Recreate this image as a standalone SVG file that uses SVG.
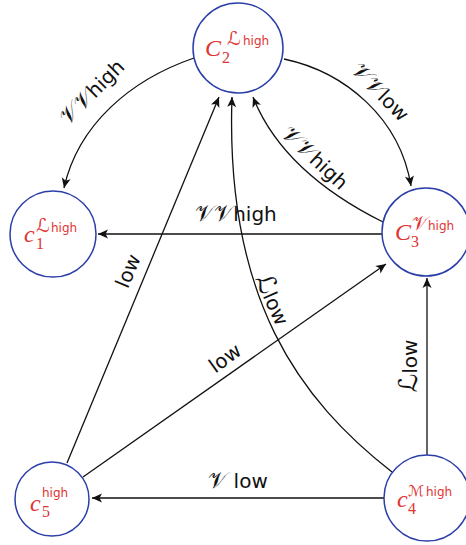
<svg xmlns="http://www.w3.org/2000/svg" width="466" height="545" viewBox="0 0 466 545">
<defs>
<style>
.node circle{fill:#fff;stroke:#2c3ea8;stroke-width:1.5}
.nm{font-family:"Liberation Serif",serif;font-style:italic;font-size:24px;fill:#e03333}
.ns{font-family:"Liberation Serif",serif;font-size:16px;fill:#e03333}
.np{font-family:"DejaVu Sans","DejaVu Serif",sans-serif;font-size:12px;fill:#e03333}
.npm{font-family:"DejaVu Serif","DejaVu Sans",serif;font-size:19px;fill:#e03333}
#edges path,#edges line{fill:none;stroke:#111;stroke-width:1.3;marker-end:url(#arr)}
.el{font-family:"DejaVu Sans","DejaVu Serif",sans-serif;font-size:20px;fill:#111;text-anchor:middle}
.sc{font-family:"DejaVu Serif","DejaVu Sans",serif;font-size:23px}
.sl{font-family:"DejaVu Serif","DejaVu Sans",serif;font-size:26px}
</style>
<marker id="arr" markerUnits="userSpaceOnUse" viewBox="-1 -5 12 10" refX="10" refY="0" markerWidth="12" markerHeight="10" orient="auto">
<path d="M0,-4.5 L10,0 L0,4.5 L2.5,0 z" fill="#111"/>
</marker>
</defs>
<rect width="466" height="545" fill="#fff"/>
<g id="edges">
<path d="M194,58 C130,80 78,125 64,188"/>
<path d="M284,59 C345,72 400,118 411,186"/>
<path d="M383,222 C335,198 278,160 253,97"/>
<line x1="382" y1="234" x2="98" y2="234"/>
<line x1="67" y1="463" x2="219" y2="97"/>
<line x1="83" y1="477" x2="386" y2="264"/>
<path d="M392,472 C300,400 225,300 232,97"/>
<line x1="427" y1="455" x2="427" y2="278"/>
<line x1="384" y1="498" x2="92" y2="498"/>
<text class="el" transform="translate(92,92) rotate(-45)" y="7"><tspan class="sc">𝒱𝒱</tspan>high</text>
<text class="el" transform="translate(380,92) rotate(45)" y="7"><tspan class="sc">𝒱𝒱</tspan>low</text>
<text class="el" transform="translate(315,158) rotate(43)" y="7"><tspan class="sc">𝒱𝒱</tspan>high</text>
<text class="el" x="236" y="221"><tspan class="sc">𝒱𝒱</tspan>high</text>
<text class="el" transform="translate(128,271) rotate(-67)" y="7">low</text>
<text class="el" transform="translate(225,358) rotate(-36)" y="7">low</text>
<text class="el" transform="translate(272,300) rotate(66)" y="7"><tspan class="sl">ℒ</tspan>low</text>
<text class="el" transform="translate(410,366) rotate(-90)" y="7"><tspan class="sl">ℒ</tspan>low</text>
<text class="el" x="238" y="488"><tspan class="sc">𝒱</tspan> low</text>
</g>
<g id="C2" class="node">
<circle cx="238" cy="48" r="45"/>
<text class="nm" x="205" y="56">C</text>
<text class="ns" x="222" y="63">2</text>
<text class="npm" x="227" y="45">ℒ</text>
<text class="np" x="243" y="45">high</text>
</g>
<g id="C1" class="node">
<circle cx="53" cy="234" r="43"/>
<text class="nm" x="24" y="242">c</text>
<text class="ns" x="36" y="249">1</text>
<text class="npm" x="36" y="232">ℒ</text>
<text class="np" x="51" y="232">high</text>
</g>
<g id="C3" class="node">
<circle cx="426" cy="232" r="44"/>
<text class="nm" x="395" y="240">C</text>
<text class="ns" x="411" y="247">3</text>
<text class="npm" x="412" y="230">𝒱</text>
<text class="np" x="428" y="230">high</text>
</g>
<g id="C4" class="node">
<circle cx="427" cy="498" r="43"/>
<text class="nm" x="397" y="507">c</text>
<text class="ns" x="408" y="514">4</text>
<text class="npm" x="408" y="496" style="font-size:15px">ℳ</text>
<text class="np" x="426" y="496">high</text>
</g>
<g id="C5" class="node">
<circle cx="52" cy="499" r="37"/>
<text class="nm" x="30" y="511">c</text>
<text class="ns" x="42" y="517">5</text>
<text class="np" x="42" y="497">high</text>
</g>
</svg>
